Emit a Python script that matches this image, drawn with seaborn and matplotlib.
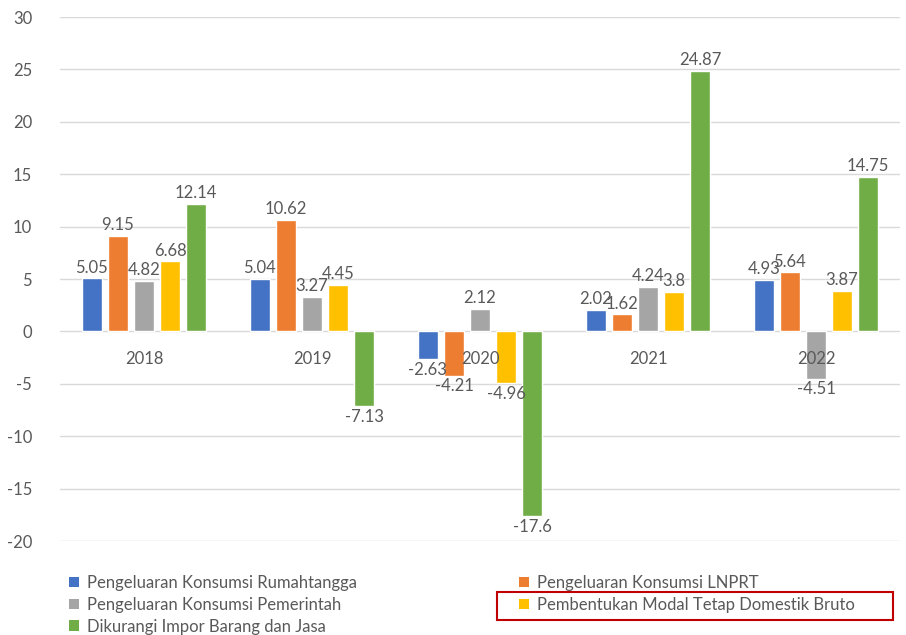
import matplotlib
matplotlib.use("Agg")
import matplotlib.pyplot as plt
import seaborn as sns
import pandas as pd
from matplotlib.patches import Patch, Rectangle

years = ["2018", "2019", "2020", "2021", "2022"]
series = [
    "Pengeluaran Konsumsi Rumahtangga",
    "Pengeluaran Konsumsi LNPRT",
    "Pengeluaran Konsumsi Pemerintah",
    "Pembentukan Modal Tetap Domestik Bruto",
    "Dikurangi Impor Barang dan Jasa",
]
rumahtangga = [5.05, 5.04, -2.63, 2.02, 4.93]
lnprt = [9.15, 10.62, -4.21, 1.62, 5.64]
pemerintah = [4.82, 3.27, 2.12, 4.24, -4.51]
pmtb = [6.68, 4.45, -4.96, 3.80, 3.87]
impor = [12.14, -7.13, -17.6, 24.87, 14.75]
colors = ["#4472C4", "#ED7D31", "#A5A5A5", "#FFC000", "#70AD47"]
yticks = [-20, -15, -10, -5, 0, 5, 10, 15, 20, 25, 30]

values = [rumahtangga, lnprt, pemerintah, pmtb, impor]
rows = []
for s, vals in zip(series, values):
    for y, v in zip(years, vals):
        rows.append({"Tahun": y, "Komponen": s, "Nilai": v})
df = pd.DataFrame(rows)

sns.set_theme(style="white")
plt.rcParams["font.family"] = ["Lato", "DejaVu Sans"]
text_color = "#595959"

fig = plt.figure(figsize=(9.06, 6.35), dpi=100)
ax = fig.add_axes([60 / 906, 94 / 635, 840 / 906, 524 / 635])

sns.barplot(data=df, x="Tahun", y="Nilai", hue="Komponen", order=years,
            hue_order=series, palette=colors, width=0.775, gap=0.22,
            saturation=1, ax=ax, legend=False, errorbar=None)

for cont in ax.containers:
    labels = [f"{v:g}" for v in cont.datavalues]
    ax.bar_label(cont, labels=labels, padding=2, fontsize=12, color=text_color)

ax.set_ylim(-20, 30)
ax.set_yticks(yticks)
ax.set_yticklabels([str(t) for t in yticks], fontsize=12, color=text_color)
ax.set_xlim(-0.5, 4.5)
ax.grid(False)
for t in yticks:
    ax.axhline(t, color="#D9D9D9", linewidth=1, zorder=0.2)
ax.set_axisbelow(False)
for sp in ["top", "right", "left"]:
    ax.spines[sp].set_visible(False)
ax.spines["bottom"].set_position(("data", 0))
ax.spines["bottom"].set_visible(False)
ax.tick_params(axis="x", length=0, pad=14, labelsize=12, labelcolor=text_color)
ax.tick_params(axis="y", length=0, pad=20)
ax.set_xlabel("")
ax.set_ylabel("")

order = [0, 2, 4, 1, 3]
handles = [Patch(facecolor=colors[i], edgecolor="none") for i in order]
labels = [series[i] for i in order]
fig.legend(handles, labels, ncol=2, loc="upper left",
           bbox_to_anchor=(69 / 906, 1 - 575 / 635), frameon=False,
           fontsize=12, labelcolor=text_color, handlelength=0.6,
           handleheight=0.6, handletextpad=0.5, labelspacing=0.35,
           columnspacing=9.7, borderaxespad=0, borderpad=0)

fig.patches.append(Rectangle((497 / 906, (635 - 620) / 635), 396 / 906, 28 / 635,
                             transform=fig.transFigure, fill=False,
                             edgecolor="#C00000", linewidth=1.5))

fig.savefig("out.png", dpi=100)
